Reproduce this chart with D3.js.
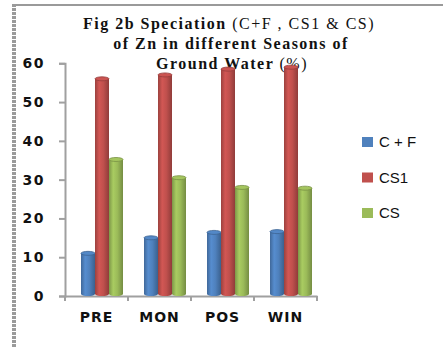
<!DOCTYPE html>
<html>
<head>
<meta charset="utf-8">
<script src="https://cdnjs.cloudflare.com/ajax/libs/d3/7.8.5/d3.min.js"></script>
<style>
  body { margin: 0; background: #fff; }
  svg { display: block; }
</style>
</head>
<body>
<div id="chart"></div>
<script>
// data
var seasons = ["PRE", "MON", "POS", "WIN"];
var seriesNames = ["C + F", "CS1", "CS"];
var cf  = [11, 15, 16.4, 16.6];
var cs1 = [56, 57, 58.5, 59];
var cs  = [35.2, 30.5, 28, 27.8];
var yTicks = [0, 10, 20, 30, 40, 50, 60];
var colors = ["#4f81bd", "#c0504d", "#9bbb59"];

var W = 443, H = 347;
var svg = d3.select("#chart").append("svg")
    .attr("width", W)
    .attr("height", H);

// outer frame: top rule and dotted left rule
svg.append("line")
    .attr("x1", 13).attr("x2", W).attr("y1", 5).attr("y2", 5)
    .attr("stroke", "#9a9a9a").attr("stroke-width", 2);
svg.append("line")
    .attr("x1", 14).attr("x2", 14).attr("y1", 4).attr("y2", H)
    .attr("stroke", "#9a9a9a").attr("stroke-width", 4)
    .attr("stroke-dasharray", "3 1");

var x0 = d3.scaleBand().domain(seasons).range([65, 317]);
var x1 = d3.scaleBand().domain(seriesNames).range([16, 58]);
var y = d3.scaleLinear().domain([0, 60]).range([296, 63.3]);

// title
var titleFont = "'Liberation Serif', 'Times New Roman', serif";
var title = svg.append("text")
    .attr("text-anchor", "middle")
    .style("font-family", titleFont)
    .style("font-size", "16px")
    .style("letter-spacing", "1.5px")
    .attr("fill", "#111");
title.append("tspan").attr("x", 229).attr("y", 29)
    .style("font-weight", "bold").text("Fig 2b Speciation ");
title.append("tspan").text("(C+F , CS1 & CS)");
title.append("tspan").attr("x", 231).attr("y", 49)
    .style("font-weight", "bold").text("of Zn in different Seasons of");
var t3 = svg.append("text")
    .attr("text-anchor", "middle")
    .attr("x", 232).attr("y", 69)
    .style("font-family", titleFont)
    .style("font-size", "16px")
    .style("letter-spacing", "1.5px")
    .attr("fill", "#111");
t3.append("tspan").style("font-weight", "bold").text("Ground Water ");
t3.append("tspan").text("(%)");

// gradients for cylinders
var defs = svg.append("defs");
colors.forEach(function(c, i) {
    var g = defs.append("linearGradient")
        .attr("id", "cyl" + i)
        .attr("x1", "0%").attr("x2", "100%").attr("y1", "0%").attr("y2", "0%");
    var base = d3.color(c);
    g.append("stop").attr("offset", "0%").attr("stop-color", base.darker(0.6));
    g.append("stop").attr("offset", "30%").attr("stop-color", base.brighter(0.25));
    g.append("stop").attr("offset", "60%").attr("stop-color", base);
    g.append("stop").attr("offset", "100%").attr("stop-color", base.darker(0.8));
});

// axes
var yAxis = svg.append("g")
    .attr("transform", "translate(65,0)")
    .call(d3.axisLeft(y).tickValues(yTicks).tickSize(6).tickPadding(14));
var xAxis = svg.append("g")
    .attr("transform", "translate(0,296)")
    .call(d3.axisBottom(x0).tickSize(0).tickPadding(16));

yAxis.select(".domain").attr("stroke", "#a0a0a0").attr("stroke-width", 2);
yAxis.selectAll(".tick line").attr("stroke", "#a0a0a0").attr("stroke-width", 2);
yAxis.selectAll("text")
    .style("font-family", "'DejaVu Sans', sans-serif")
    .style("font-size", "14px")
    .style("font-weight", "bold")
    .style("letter-spacing", "1.5px")
    .attr("fill", "#111");

xAxis.select(".domain").attr("stroke", "#a0a0a0").attr("stroke-width", 2);
xAxis.selectAll("text")
    .style("font-family", "'DejaVu Sans', sans-serif")
    .style("font-size", "14px")
    .style("font-weight", "bold")
    .style("letter-spacing", "1px")
    .attr("fill", "#111");
// boundary ticks between categories
var bounds = seasons.map(function(s) { return x0(s); }).concat([x0.range()[1]]);
xAxis.selectAll(".bound")
    .data(bounds)
    .enter().append("line")
    .attr("x1", function(d) { return d; })
    .attr("x2", function(d) { return d; })
    .attr("y1", 0).attr("y2", 5)
    .attr("stroke", "#a0a0a0").attr("stroke-width", 2);

// bars as cylinders
var table = seasons.map(function(s, i) {
    return { season: s, values: [cf[i], cs1[i], cs[i]] };
});
var bw = x1.bandwidth();
var groups = svg.selectAll(".group")
    .data(table)
    .enter().append("g")
    .attr("class", "group")
    .attr("transform", function(d) { return "translate(" + x0(d.season) + ",0)"; });

var bars = groups.selectAll(".bar")
    .data(function(d) {
        return d.values.map(function(v, j) { return { name: seriesNames[j], value: v, j: j }; });
    })
    .enter().append("g")
    .attr("class", "bar");

var floor = y(0) - 2;
bars.append("ellipse")
    .attr("cx", function(d) { return x1(d.name) + bw / 2; })
    .attr("cy", floor)
    .attr("rx", bw / 2).attr("ry", 2)
    .attr("fill", function(d) { return "url(#cyl" + d.j + ")"; });
bars.append("rect")
    .attr("x", function(d) { return x1(d.name); })
    .attr("y", function(d) { return y(d.value); })
    .attr("width", bw)
    .attr("height", function(d) { return floor - y(d.value); })
    .attr("fill", function(d) { return "url(#cyl" + d.j + ")"; });
bars.append("ellipse")
    .attr("cx", function(d) { return x1(d.name) + bw / 2; })
    .attr("cy", function(d) { return y(d.value); })
    .attr("rx", bw / 2).attr("ry", 2)
    .attr("fill", function(d) { return d3.color(colors[d.j]).brighter(0.15); })
    .attr("stroke", function(d) { return d3.color(colors[d.j]).darker(0.7); })
    .attr("stroke-width", 0.8);

// legend
var legend = svg.selectAll(".legend")
    .data(seriesNames)
    .enter().append("g")
    .attr("class", "legend")
    .attr("transform", function(d, i) { return "translate(362," + (137 + i * 35.5) + ")"; });
legend.append("rect")
    .attr("width", 11).attr("height", 10)
    .attr("fill", function(d, i) { return colors[i]; });
legend.append("text")
    .attr("x", 17).attr("y", 5)
    .attr("dy", "0.36em")
    .style("font-family", "'Liberation Sans', Arial, sans-serif")
    .style("font-size", "15px")
    .attr("fill", "#111")
    .text(function(d) { return d; });
</script>
</body>
</html>
